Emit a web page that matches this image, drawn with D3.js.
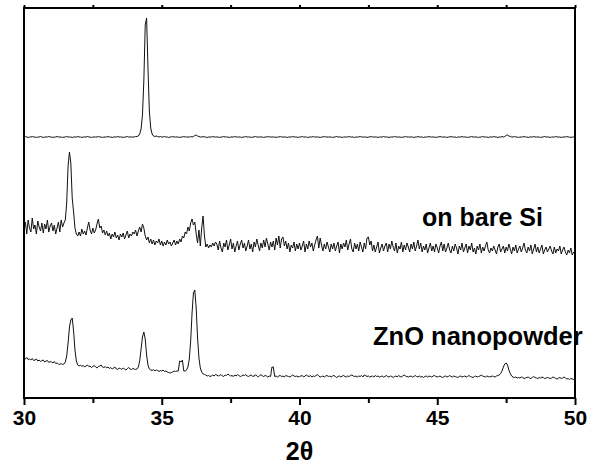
<!DOCTYPE html>
<html>
<head>
<meta charset="utf-8">
<script src="https://cdn.jsdelivr.net/npm/d3@7"></script>
<style>
  html, body { margin: 0; padding: 0; background: #fff; }
  svg { display: block; }
  text { font-family: "Liberation Sans", Arial, sans-serif; font-weight: bold; fill: #000; }
</style>
</head>
<body>
<svg id="chart" width="589" height="466"></svg>
<script>
// XRD patterns, 2θ from 30° to 50° sampled every 0.05°
const thetaStart = 30;
const thetaStep = 0.05;

// x-axis ticks (major every 5°, minor every 2.5°)
const tickValues = [30, 32.5, 35, 37.5, 40, 42.5, 45, 47.5, 50];
const tickLabels = ["30", "", "35", "", "40", "", "45", "", "50"];

// series names, vertical stacking offsets (a.u.) and label texts
const seriesNames = ["film", "bareSi", "powder"];
const seriesOffsets = [255, 140, 15];
const seriesLabels = ["", "on bare Si", "ZnO nanopowder"];

// intensity (a.u.) — top pattern
const filmCounts = [
  6,6.5,6,5.5,6,6,6.5,6,6,5.5,6,6,6.5,6,5.5,6,6,6,6.5,6,
  6,5.5,6,6,6.5,6,6,6,5.5,6,6,6.5,6,6,6,5.5,6,6,6,6.5,
  6,6,5.5,6,6,6,6.5,6,6,5.5,6,6,6,6,6.5,6,6,5.5,6,6,
  6,6.5,6,6,5.5,6,6,6,6.5,6,6,6,5.5,6,6,6.5,6,6,6,6,
  6,6.5,6.5,7,9,14,28,62,118,125,75,32,15,9,7,6.5,7,6.5,6,6.5,
  6,6,6.5,6,6,5.5,6,6,6.5,6,6,6,6,5.5,6,6,6.5,6,6,6,
  6,6.5,6,6.5,7.5,8,7,6.5,6,6,6.5,6,6,5.5,6,6,6,6.5,6,6,
  6,6,5.5,6,6,6.5,6,6,6,5.5,6,6,6,6.5,6,6,6,6,5.5,6,
  6,6.5,6,6,6,5.5,6,6,6.5,6,6,6,6,6,5.5,6,6,6.5,6,6,
  6,6,6,5.5,6,6,6.5,6,6,6,6,5.5,6,6,6,6.5,6,6,6,5.5,
  6,6,6.5,6,6,6,5.5,6,6,6,6.5,6,6,6,6,5.5,6,6,6.5,6,
  6,6,6,6,5.5,6,6,6.5,6,6,6,5.5,6,6,6,6,6.5,6,6,6,
  5.5,6,6,6,6.5,6,6,6,6,5.5,6,6,6.5,6,6,6,6,5.5,6,6,
  6,6.5,6,6,6,5.5,6,6,6,6.5,6,6,6,6,5.5,6,6,6.5,6,6,
  6,6,6,5.5,6,6,6.5,6,6,6,5.5,6,6,6,6.5,6,6,6,6,5.5,
  6,6,6.5,6,6,6,6,5.5,6,6,6.5,6,6,6,5.5,6,6,6,6.5,6,
  6,6,5.5,6,6,6.5,6,6,6,6,5.5,6,6,6.5,6,6,6,5.5,6,6,
  6,6.5,6,6,5.5,6,6,6.5,6,6.5,7.5,8,7,6.5,6,6,6.5,6,6,5.5,
  6,6,6,6.5,6,6,5.5,6,6,6,6.5,6,6,6,6,5.5,6,6,6.5,6,
  6,6,5.5,6,6,6,6.5,6,6,6,5.5,6,6,6,6.5,6,6,5.5,6,6,
  6
];

// intensity (a.u.) — on bare Si
const bareSiCounts = [
  28,36,24,38,30,26,40,29,33,24,37,31,27,35,25,34,29,38,26,32,
  35,27,33,24,30,36,26,38,31,35,38,55,92,106,95,60,46,30,24,22,
  26,22,29,24,27,23,30,36,28,24,30,25,28,34,39,30,32,25,28,23,
  27,22,25,19,24,21,26,20,23,18,24,21,25,19,23,27,20,24,22,26,
  24,28,22,27,31,26,34,30,22,18,21,15,19,14,18,13,17,15,19,13,
  17,12,16,13,18,14,16,12,15,18,13,17,14,19,16,22,20,26,24,31,
  27,35,39,33,36,24,15,28,12,30,42,22,11,14,10,13,11,15,12,16,
  14,8,17,10,6,15,11,18,8,13,19,9,15,6,12,17,8,14,18,10,
  15,7,12,18,9,14,6,16,11,19,13,7,15,10,18,11,20,14,8,16,
  11,17,8,20,13,22,10,19,21,12,17,9,15,6,13,10,16,7,14,9,
  15,8,12,17,6,14,9,17,11,15,7,13,18,22,10,20,13,7,14,9,
  16,11,6,14,9,15,7,12,16,5,14,9,15,11,18,8,14,19,9,6,
  15,9,14,7,16,11,6,15,9,20,21,13,17,7,13,6,11,16,5,10,
  14,7,12,15,6,14,9,17,11,7,15,5,12,9,16,6,13,8,15,11,
  6,14,9,16,7,12,18,9,15,6,12,8,14,5,10,15,7,12,6,14,
  10,5,12,16,7,14,6,10,15,8,5,12,7,14,10,4,12,8,15,6,
  10,14,5,12,8,15,6,10,4,12,8,14,5,11,7,12,16,8,5,10,
  7,12,8,4,11,14,6,9,12,5,11,7,14,9,4,11,7,13,5,9,
  12,6,10,15,8,5,11,7,13,4,9,14,6,11,5,9,13,4,8,11,
  6,9,12,7,4,11,5,9,7,12,4,8,11,6,3,8,5,10,3,6,
  4
];

// intensity (a.u.) — ZnO nanopowder
const powderCounts = [
  25,24,25.5,23.5,24,23,24.5,22.5,23,24,22,23,21.5,22.5,23,21,22,22.5,20.5,21.5,
  21,20,21.5,19.5,20,19,18.5,19.5,18.5,19,21,27,40,56,63,65,52,33,22,18,
  17,18,16.5,17.5,16,17,18,16.5,17,15.5,16.5,17.5,16,15,16.5,17,18,16,15.5,16.5,
  15,16,14.5,15.5,14,15,16,14,13.5,15,14.5,13.5,15,14,13,14.5,15.5,14,13.5,14.5,
  14,13.5,14,16,22,34,46,51,44,28,18,14,13,12.5,13.5,12,13,12.5,11.5,12.5,
  12,13,11.5,12,11,10.5,10,10.5,11,12,11.5,12,12,22,21,23,12,12,13,16,
  24,42,70,90,93,75,45,25,15,11,9,8.5,8,7,7.5,6.5,7,8,7,8.5,
  8,7,7.5,8.5,7,6.5,8,7.5,9,8,7,7.5,6.5,8,7,8.5,7.5,6.5,7,8,
  7.5,8.5,7,6.5,7.5,8,6.5,7,8,7.5,6,7,8.5,7,6.5,7.5,7,6,7,6.5,
  16,16,6.5,7,6,7,7.5,6.5,7,6,7.5,7,6.5,6,7,8,7,6.5,7,6,
  6.5,7,7.5,6,7,8,7,6.5,7.5,6,7,6.5,7.5,8.5,7,6,6.5,7,6,7,
  7.5,6.5,7,6,7,7.5,6.5,5.5,6.5,7,6,7,7.5,6.5,6,7,6.5,7.5,8,7,
  6.5,7,6,7,6.5,7.5,6,8,7.5,6.5,7,6,6.5,7,6,7.5,6.5,7,6,6.5,
  7,6,6.5,7.5,6.5,6,7,6.5,5.5,6.5,7,6,7.5,6.5,6,7,8,7,6.5,6,
  6.5,7,6,6.5,7.5,6.5,6,7,6,6.5,5.5,6.5,7,6,7,6.5,6,7,7.5,6.5,
  6,6.5,7,6,5.5,6.5,7,6,6.5,7.5,6.5,6,7,6.5,6,5.5,6.5,7,6,6.5,
  7,6,6.5,7.5,6.5,6,5.5,6.5,7,6,6.5,7,8,7,6.5,6,7,6.5,6,6.5,
  7,6.5,6,7,7.5,8,9.5,12,16,19,20,18,13,9.5,7,6,5.5,6,5,5.5,
  5,6,5.5,4.5,5,5.5,6,5,4.5,5.5,6.5,5.5,5,4.5,5.5,5,6,5.5,4.5,5,
  5.5,5,4.5,5,6,5.5,4.5,4,5,5.5,4.5,5,6,5,4,4.5,3.5,4.5,4,3.5,
  3
];

const seriesCounts = [filmCounts, bareSiCounts, powderCounts];

const svg = d3.select("#chart");
const margin = { left: 24, right: 14, top: 8, bottom: 68 };
const W = 589, H = 466;
const plotL = margin.left, plotR = W - margin.right;
const plotT = margin.top, plotB = H - margin.bottom;

const x = d3.scaleLinear().domain([30, 50]).range([plotL, plotR]);
const y = d3.scaleLinear().domain([0, 390]).range([plotB, plotT]);

const line = d3.line()
  .x(d => x(d.t))
  .y(d => y(d.v));

seriesCounts.forEach((counts, si) => {
  const pts = counts.map((c, i) => ({ t: thetaStart + i * thetaStep, v: c + seriesOffsets[si] }));
  svg.append("path")
    .attr("class", "trace " + seriesNames[si])
    .attr("d", line(pts))
    .attr("fill", "none")
    .attr("stroke", "#111")
    .attr("stroke-width", 1)
    .attr("stroke-linejoin", "round");
});

// frame
svg.append("rect")
  .attr("x", plotL).attr("y", plotT)
  .attr("width", plotR - plotL).attr("height", plotB - plotT)
  .attr("fill", "none").attr("stroke", "#000").attr("stroke-width", 2);

// bottom axis
const xAxis = d3.axisBottom(x)
  .tickValues(tickValues)
  .tickSize(7)
  .tickPadding(5)
  .tickFormat((d, i) => tickLabels[i]);

const gx = svg.append("g")
  .attr("transform", `translate(0,${plotB})`)
  .call(xAxis);
gx.select(".domain").remove();
gx.selectAll(".tick line")
  .attr("stroke", "#000").attr("stroke-width", 2)
  .attr("y2", (d, i) => tickLabels[i] ? 7 : 5);
gx.selectAll(".tick text")
  .style("font-size", "21px")
  .style("font-family", "'Liberation Sans', Arial, sans-serif")
  .style("font-weight", "bold");

// top axis (ticks only)
const gTop = svg.append("g")
  .attr("transform", `translate(0,${plotT})`)
  .call(d3.axisTop(x).tickValues(tickValues).tickSize(3).tickFormat(""));
gTop.select(".domain").remove();
gTop.selectAll(".tick line").attr("stroke", "#000").attr("stroke-width", 2);

// series labels
svg.append("text")
  .attr("x", 422).attr("y", 226)
  .style("font-size", "25px")
  .text(seriesLabels[1]);

svg.append("text")
  .attr("x", 373).attr("y", 345)
  .style("font-size", "25.5px")
  .text(seriesLabels[2]);

// x-axis title
svg.append("text")
  .attr("x", (plotL + plotR) / 2).attr("y", 460)
  .attr("text-anchor", "middle")
  .style("font-size", "25px")
  .text("2θ");
</script>
</body>
</html>
